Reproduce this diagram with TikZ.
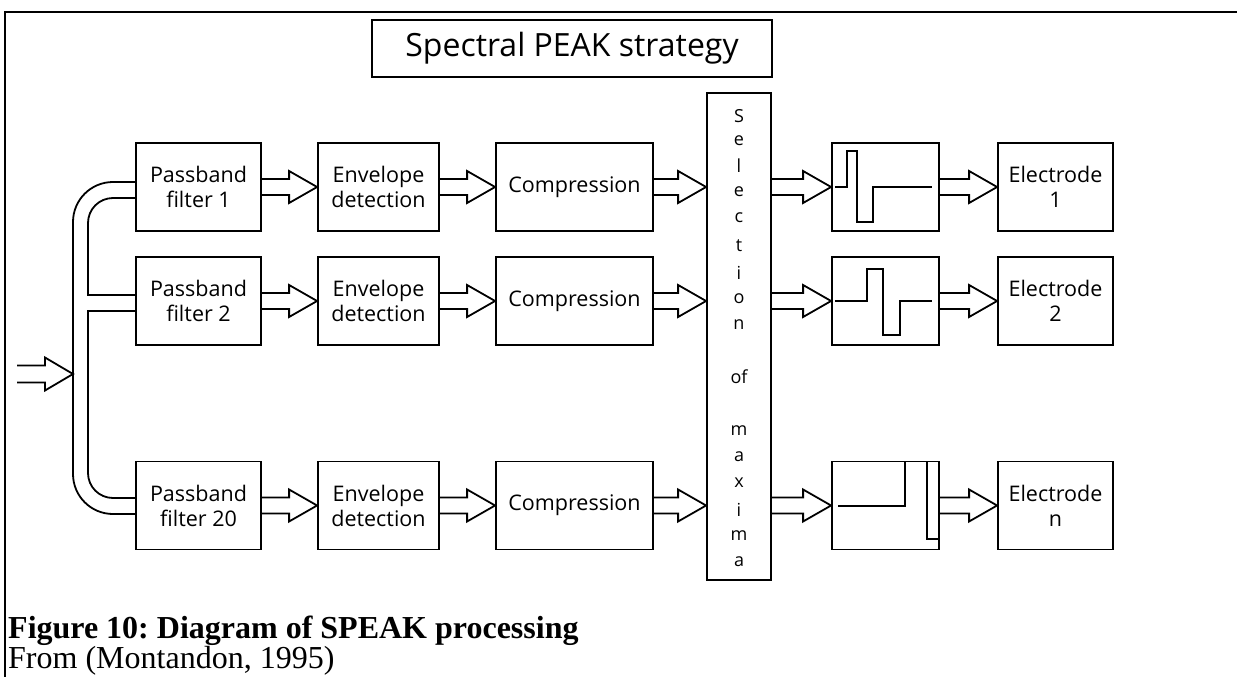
\documentclass[tikz,border=0pt]{standalone}
\usepackage{fontspec}
\setmainfont{Liberation Serif}
\newfontfamily\labelfont{Open Sans}
\usetikzlibrary{calc}
\frenchspacing
\newcommand\blkarrow[3]{\draw[barrow] let \p1=(#1.east), \p2=(#2.west), \p3=(#3) in
  (\x1,\y3+8pt) -- (\x2-28pt,\y3+8pt) -- (\x2-28pt,\y3+16pt) -- (\x2,\y3) --
  (\x2-28pt,\y3-16pt) -- (\x2-28pt,\y3-8pt) -- (\x1,\y3-8pt);}
\begin{document}
\begin{tikzpicture}[x=1pt,y=-1pt,
  box/.style={draw, line width=1.8pt, rectangle, inner sep=0pt, align=center,
    font=\labelfont\fontsize{21.5}{25}\selectfont},
  pbbox/.style={box, minimum width=125pt, minimum height=88pt},
  envbox/.style={box, minimum width=121pt, minimum height=88pt},
  compbox/.style={box, minimum width=157pt, minimum height=88pt},
  wavebox/.style={box, minimum width=107pt, minimum height=88pt},
  elecbox/.style={box, minimum width=115pt, minimum height=88pt},
  barrow/.style={draw, line width=1.8pt, line join=miter},
  pipe/.style={draw, line width=1.8pt},
  wave/.style={draw, line width=2.2pt, line join=miter},
  lbl/.style={font=\labelfont\fontsize{18}{20}\selectfont, inner sep=0pt},
]
\useasboundingbox (0,0) rectangle (1237,677);
% frame
\draw[line width=2pt] (5,677) -- (5,12) -- (1237,12);
% title
\node[draw, line width=1.8pt, minimum width=400pt, minimum height=57pt, inner sep=0pt,
  font=\labelfont\fontsize{32}{36}\selectfont] (title) at (572,48.5) {Spectral PEAK strategy};
% rows
\node[pbbox] (pb1) at (198.5,187) {Passband\\filter 1};
\node[pbbox] (pb2) at (198.5,301) {Passband\\filter 2};
\node[pbbox] (pb3) at (198.5,505.5) {Passband\\filter 20};
\node[envbox] (env1) at (378.5,187) {Envelope\\detection};
\node[envbox] (env2) at (378.5,301) {Envelope\\detection};
\node[envbox] (env3) at (378.5,505.5) {Envelope\\detection};
\node[compbox] (comp1) at (574.5,187) {Compression};
\node[compbox] (comp2) at (574.5,301) {Compression};
\node[compbox] (comp3) at (574.5,505.5) {Compression};
\node[box, minimum width=64pt, minimum height=487pt] (sel) at (739,336.5) {};
\node[wavebox] (wave1) at (885.5,187) {};
\node[wavebox] (wave2) at (885.5,301) {};
\node[wavebox] (wave3) at (885.5,505.5) {};
\node[elecbox] (el1) at (1055.5,187) {Electrode\\1};
\node[elecbox] (el2) at (1055.5,301) {Electrode\\2};
\node[elecbox] (el3) at (1055.5,505.5) {Electrode\\n};
% selection text
\foreach \t/\yy [count=\i] in {S/116,e/141,l/166,e/192,c/218,t/246,i/273,o/299,n/325,of/377,m/431,a/457,x/483,i/510,m/536,a/562}
  \node[lbl, name=sl\i] at (739,\yy) {\t};
% arrows
\foreach \r in {1,2,3}{
  \blkarrow{pb\r}{env\r}{pb\r}
  \blkarrow{env\r}{comp\r}{env\r}
  \blkarrow{comp\r}{sel}{comp\r}
  \blkarrow{sel}{wave\r}{wave\r}
  \blkarrow{wave\r}{el\r}{wave\r}
}
% input arrow
\coordinate (in) at (17,374);
\coordinate (busin) at (73,374);
\draw[barrow] let \p1=(in), \p2=(busin) in
  (\x1,\y1+8.5pt) -- (\x2-28pt,\y1+8.5pt) -- (\x2-28pt,\y1+16.5pt) -- (\x2,\y1) --
  (\x2-28pt,\y1-16.5pt) -- (\x2-28pt,\y1-8.5pt) -- (\x1,\y1-8.5pt);
% distribution pipe
\draw[pipe, rounded corners=40pt] (pb1.west |- 0,182) -- (73,182) -- (73,514) -- (pb3.west |- 0,514);
\draw[pipe, rounded corners=25pt] (pb1.west |- 0,198) -- (88,198) -- (88,262);
\draw[pipe] (88,260) -- (88,295) -- (pb2.west |- 0,295);
\draw[pipe] (pb2.west |- 0,311) -- (88,311) -- (88,420);
\draw[pipe, rounded corners=25pt] (88,418) -- (88,498) -- (pb3.west |- 0,498);
% waveforms
\draw[wave] (835,187) -- (847,187) -- (847,151) -- (857,151) -- (857,222) -- (873,222) -- (873,187) -- (932,187);
\draw[wave] (835,301) -- (867,301) -- (867,269) -- (883,269) -- (883,335) -- (900,335) -- (900,301) -- (932,301);
\draw[wave] (838,506) -- (905,506) -- (905,462);
\draw[wave] (927,462) -- (927,539) -- (939,539);
% caption
\node[anchor=base west, inner sep=0pt, font=\bfseries\fontsize{32}{36}\selectfont] (cap1) at (8,638) {Figure 10: Diagram of SPEAK processing};
\node[anchor=base west, inner sep=0pt, font=\fontsize{32}{36}\selectfont] (cap2) at (8,668) {From (Montandon, 1995)};
\end{tikzpicture}
\end{document}
